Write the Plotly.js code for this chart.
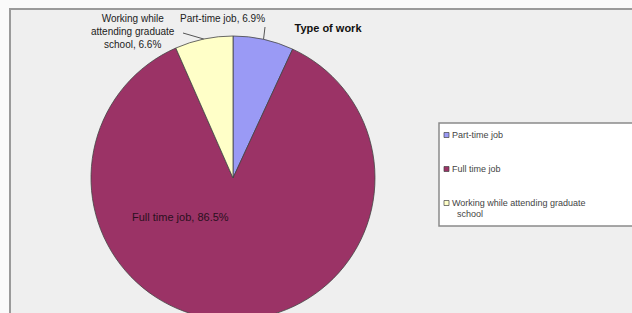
<!DOCTYPE html>
<html>
<head>
<meta charset="utf-8">
<script src="https://cdn.plot.ly/plotly-3.0.1.min.js"></script>
<style>
  html, body { margin: 0; padding: 0; overflow: hidden; background: #fafafa; }
  #chart { width: 632px; height: 330px; }
</style>
</head>
<body>
<div id="chart"></div>
<script>
// ---- data ----
const categories = ['Part-time job', 'Full time job', 'Working while attending graduate school'];
const values = [6.9, 86.5, 6.6];
const colors = ['#9a9af5', '#9b3366', '#ffffc8'];
const labelLines = [['Part-time job, 6.9%'], ['Full time job, 86.5%'], ['Working while', 'attending graduate', 'school, 6.6%']];
const legendLines = [['Part-time job'], ['Full time job'], ['Working while attending graduate', 'school']];
const chartTitle = 'Type of work';

// ---- layout helpers (pixel -> paper, margins are zero) ----
const W = 632, H = 330;
const px = x => x / W;
const py = y => 1 - y / H;
const cx = 233, cy = 178, r = 142;
const font = 'Liberation Sans, Arial, sans-serif';

const total = values.reduce((a, b) => a + b, 0);
// mid-angle edge points (clockwise from 12 o'clock)
const edgePts = [];
let acc = 0;
values.forEach(v => {
  const mid = (acc + v / 2) / total * 2 * Math.PI;
  edgePts.push([cx + r * Math.sin(mid), cy - r * Math.cos(mid)]);
  acc += v;
});

const shapes = [
  // chart area
  {type: 'rect', xref: 'paper', yref: 'paper', x0: px(10), x1: px(720), y0: py(400), y1: py(9),
   fillcolor: '#efefef', line: {color: '#9a9a9a', width: 2}, layer: 'below'},
  // legend box
  {type: 'rect', xref: 'paper', yref: 'paper', x0: px(439), x1: px(720), y0: py(226), y1: py(123),
   fillcolor: '#ffffff', line: {color: '#8a8a8a', width: 1.5}, layer: 'below'},
  // leader lines
  {type: 'line', xref: 'paper', yref: 'paper', x0: px(265), y0: py(27), x1: px(edgePts[0][0]), y1: py(edgePts[0][1]),
   line: {color: '#555', width: 1}},
  {type: 'line', xref: 'paper', yref: 'paper', x0: px(183), y0: py(33), x1: px(edgePts[2][0]), y1: py(edgePts[2][1]),
   line: {color: '#555', width: 1}}
];

const legendY = [135, 169, 203];
categories.forEach((c, i) => {
  shapes.push({type: 'rect', xref: 'paper', yref: 'paper',
    x0: px(444), x1: px(449), y0: py(legendY[i] + 2.5), y1: py(legendY[i] - 2.5),
    fillcolor: colors[i], line: {color: '#444', width: 0.7}});
});

const annotations = [];
// slice labels
annotations.push({xref: 'paper', yref: 'paper', x: px(222), y: py(18), text: labelLines[0].join('<br>'),
  showarrow: false, xanchor: 'center', yanchor: 'middle', font: {family: font, size: 10, color: '#222'}});
annotations.push({xref: 'paper', yref: 'paper', x: px(180), y: py(217), text: labelLines[1].join('<br>'),
  showarrow: false, xanchor: 'center', yanchor: 'middle', font: {family: font, size: 11, color: '#2a1020'}});
annotations.push({xref: 'paper', yref: 'paper', x: px(133), y: py(31), text: labelLines[2].join('<br>'),
  showarrow: false, xanchor: 'center', yanchor: 'middle', align: 'center', font: {family: font, size: 10, color: '#222'}});
// legend texts
legendLines.forEach((lines, i) => {
  lines.forEach((t, j) => {
    annotations.push({xref: 'paper', yref: 'paper', x: px(j === 0 ? 450 : 455), y: py(legendY[i] + j * 11),
      text: t, showarrow: false, xanchor: 'left', yanchor: 'middle',
      font: {family: font, size: 9, color: '#444'}});
  });
});

const data = [{
  type: 'pie',
  labels: categories,
  values: values,
  sort: false,
  direction: 'clockwise',
  rotation: 0,
  textinfo: 'none',
  marker: {colors: colors, line: {color: '#444', width: 0.8}},
  domain: {x: [px(cx - r), px(cx + r)], y: [py(cy + r), py(cy - r)]},
  showlegend: false
}];

const layout = {
  width: W, height: H,
  margin: {l: 0, r: 0, t: 0, b: 0},
  paper_bgcolor: '#fafafa',
  showlegend: false,
  title: {text: '<b>' + chartTitle + '</b>', x: px(328), xanchor: 'center', y: py(28), yanchor: 'middle',
    font: {family: font, size: 11, color: '#111'}},
  shapes: shapes,
  annotations: annotations
};

Plotly.newPlot('chart', data, layout, {displayModeBar: false, staticPlot: true});
</script>
</body>
</html>
